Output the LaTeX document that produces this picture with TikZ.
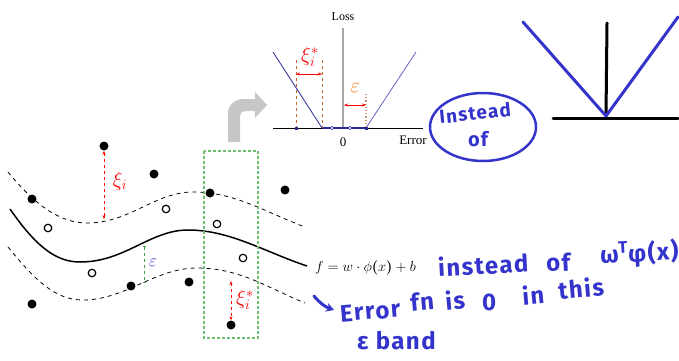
\documentclass[tikz,border=0pt]{standalone}
\usepackage{fontspec}
\usepackage{amsmath,bm}
\setmainfont{Liberation Serif}
\newfontfamily\handfont{Fira Sans}[LetterSpace=6]
\usetikzlibrary{arrows.meta,shapes.geometric}
\definecolor{handblue}{RGB}{52,52,204}
\definecolor{lossblue}{RGB}{40,40,150}
\definecolor{lossblue2}{RGB}{100,100,200}
\definecolor{brownish}{RGB}{190,100,50}
\definecolor{epsorange}{RGB}{240,130,30}
\definecolor{bandgreen}{RGB}{60,160,60}
\definecolor{boxgreen}{RGB}{110,190,110}
\tikzset{
  fdot/.style={circle,fill=black,inner sep=0pt,minimum size=9pt},
  odot/.style={circle,draw=black,line width=1.2pt,fill=white,inner sep=0pt,minimum size=7.5pt},
  bandline/.style={dash pattern=on 4pt off 4pt,line width=0.8pt},
  redarrow/.style={red,dashed,line width=0.8pt,{Stealth[length=4pt,width=3pt]}-{Stealth[length=4pt,width=3pt]}},
  hw/.style={text=handblue,font=\handfont\bfseries\fontsize{24}{26}\selectfont,inner sep=0pt},
  bigline/.style={line width=3pt,line cap=round},
  biglab/.style={font=\fontsize{20}{22}\selectfont,inner sep=0pt},
}
\begin{document}
\begin{tikzpicture}[x=1pt,y=-1pt]
\useasboundingbox (0,0) rectangle (679,360);

% ---------- main plot ----------
\draw[line width=1.5pt] (10,209) .. controls (35,245) and (55,262) .. (80,262)
  .. controls (125,262) and (150,230) .. (188,230)
  .. controls (230,230) and (265,252) .. (307,266);
\draw[bandline] (8,172) .. controls (35,205) and (60,223) .. (87,223)
  .. controls (130,223) and (155,192) .. (193,192)
  .. controls (235,192) and (265,212) .. (305,227);
\draw[bandline] (8,247) .. controls (35,280) and (55,300) .. (83,300)
  .. controls (125,300) and (155,268) .. (197,268)
  .. controls (240,268) and (268,288) .. (305,303);

% green dashed box
\draw[boxgreen,dash pattern=on 3pt off 2pt,line width=1.2pt] (204,151) rectangle (258,338);

% filled points
\node[fdot] (p1) at (104,146) {};
\node[fdot] (p2) at (154,174) {};
\node[fdot] (p3) at (32,199) {};
\node[fdot] (p4) at (210,193) {};
\node[fdot] (p5) at (285,190) {};
\node[fdot] (p6) at (131,286) {};
\node[fdot] (p7) at (189,282) {};
\node[fdot] (p8) at (32,304) {};
\node[fdot] (p9) at (231,325) {};
% open points
\node[odot] (o1) at (48,228) {};
\node[odot] (o2) at (166,209) {};
\node[odot] (o3) at (217,224) {};
\node[odot] (o4) at (92,273) {};
\node[odot] (o5) at (243,258) {};

% slack arrows
\coordinate (xiend) at (104,219);
\draw[redarrow] (p1.south) -- (xiend);
\node[red,biglab] (xilab) at (120,181) {$\xi_i$};
\coordinate (xisend) at (231,281);
\draw[redarrow] (xisend) -- (p9.north);
\node[red,biglab] (xislab) at (245,300) {$\xi_i^{*}$};
\coordinate (epstop) at (144,246);
\coordinate (epsbot) at (144,283);
\draw[bandgreen,dashed,line width=0.8pt,{Bar[width=3pt]}-{Bar[width=3pt]}] (epstop) -- (epsbot);
\node[handblue,font=\fontsize{17}{19}\selectfont] (epslab) at (153,263) {$\varepsilon$};

% formula
\node[font=\fontsize{15}{17}\selectfont,anchor=west,inner sep=0pt] (formula) at (315,268)
  {$f=w\cdot\phi\bm{(}x\bm{)}+b$};

% ---------- gray bent arrow ----------
\fill[gray!45] (228,142) -- (228,113) to[out=90,in=180] (243,99) -- (255,99) -- (255,92)
  -- (267,105) -- (255,118) -- (255,111) -- (245,111) to[out=180,in=90] (240,116)
  -- (240,142) -- cycle;

% ---------- loss plot ----------
\coordinate (haxl) at (273,128);
\coordinate (haxr) at (423,128);
\coordinate (vaxb) at (343,128);
\coordinate (vaxt) at (343,28);
\draw[line width=0.9pt] (haxl) -- (haxr);
\draw[gray!70,line width=2pt] (vaxb) -- (vaxt);
\node[font=\fontsize{12}{14}\selectfont,anchor=south] (losslab) at (343,24) {Loss};
\node[font=\fontsize{13}{15}\selectfont] (zerolab) at (343,142) {0};
\node[font=\fontsize{13}{15}\selectfont] (errlab) at (413,140) {Error};
\coordinate (kl) at (322,128);
\coordinate (kr) at (366,128);
\coordinate (lt) at (273,52);
\coordinate (rt) at (416,52);
\draw[lossblue,line width=0.8pt] (lt) -- (kl);
\draw[lossblue2,line width=0.8pt] (kr) -- (rt);
\draw[lossblue,line width=1.3pt] (kl) -- (kr);
\node[fill=lossblue,inner sep=0pt,minimum size=3pt] (sq) at (296,128) {};
\node[circle,draw=lossblue,fill=white,inner sep=0pt,minimum size=3.5pt,line width=0.6pt] (c1) at (332,128) {};
\node[circle,draw=lossblue,fill=white,inner sep=0pt,minimum size=3.5pt,line width=0.6pt] (c2) at (350,128) {};
\node[fill=lossblue,inner sep=0pt,minimum size=3pt] (sq2) at (366,128) {};
% xi* marker
\coordinate (xl1) at (296,60);
\coordinate (xl2) at (322,60);
\draw[brownish,dashed,line width=0.8pt] (xl1) -- (sq);
\draw[brownish,dashed,line width=0.8pt] (xl2) -- (kl);
\coordinate (xa1) at (296,74);
\coordinate (xa2) at (322,74);
\draw[red,line width=0.8pt,{Stealth[length=4pt,width=3pt]}-{Stealth[length=4pt,width=3pt]}] (xa1) -- (xa2);
\node[red,biglab] (xilab2) at (310,57) {$\xi_i^{*}$};
% eps marker
\coordinate (et) at (366,94);
\draw[brownish!70,dotted,line width=1.2pt] (et) -- (sq2);
\coordinate (ea1) at (344,105);
\coordinate (ea2) at (366,105);
\draw[red,line width=0.8pt,{Stealth[length=4pt,width=3pt]}-{Stealth[length=4pt,width=3pt]}] (ea1) -- (ea2);
\node[epsorange,biglab] (epslab2) at (355,88) {$\varepsilon$};

% ---------- handwritten "Instead of" oval ----------
\node[ellipse,draw=handblue,line width=2.5pt,minimum width=106pt,minimum height=68pt] (oval) at (483,127) {};
\node[hw,font=\handfont\bfseries\fontsize{19}{21}\selectfont,rotate=6] (instead1) at (475,113) {Instead};
\node[hw,font=\handfont\bfseries\fontsize{20}{22}\selectfont] (of1) at (478,139) {of};

% ---------- big V ----------
\coordinate (va) at (523,22);
\coordinate (vb) at (606,116);
\coordinate (vc) at (678,17);
\coordinate (vt) at (607,23);
\coordinate (hl) at (553,118);
\coordinate (hr) at (678,118);
\draw[bigline,black] (vt) -- (vb);
\draw[bigline,black] (hl) -- (hr);
\draw[bigline,handblue,line join=round] (va) -- (vb) -- (vc);

% ---------- handwritten notes ----------
\node[hw,anchor=west,rotate=3] (w1) at (438,267) {instead};
\node[hw,anchor=west,rotate=3] (w2) at (546,263) {of};
\node[hw,anchor=west,rotate=3] (w3) at (600,256) {ω\textsuperscript{T}φ(x)};
\coordinate (ha1) at (314,296);
\coordinate (ha2) at (334,310);
\draw[handblue,line width=3pt,line cap=round,-{Stealth[length=8pt,width=9pt]}] (ha1) to[bend right=15] (ha2);
\node[hw,anchor=west,rotate=5] (w4) at (340,314) {Error};
\node[hw,anchor=west,rotate=5] (w5) at (410,302) {fn};
\node[hw,anchor=west,rotate=5] (w6) at (445,301) {is};
\node[hw,anchor=west] (w7) at (482,302) {0};
\node[hw,anchor=west,rotate=5] (w8) at (522,296) {in};
\node[hw,anchor=west,rotate=5] (w9) at (558,290) {this};
\node[hw,anchor=west] (w10) at (357,341) {ε band};
\end{tikzpicture}
\end{document}
